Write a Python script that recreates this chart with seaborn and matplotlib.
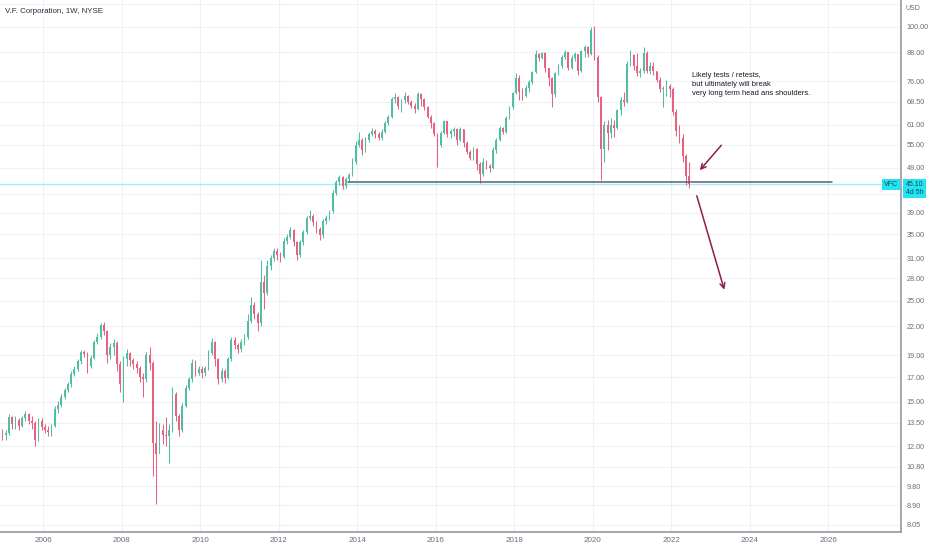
import numpy as np
import pandas as pd
import seaborn as sns
import matplotlib.pyplot as plt

# VFC, monthly candles (Dec 2004 .. Jun 2022), log price scale
first_open = 12.9
closes = [
    12.7,
    12.8, 13.9, 13.4, 13.7, 13.3, 13.8, 14.1, 13.6, 13.5, 12.4, 13.6, 13.2,  # 2005
    13.0, 12.9, 13.3, 14.5, 14.8, 15.4, 15.9, 16.4, 17.3, 17.7, 18.4, 19.3,  # 2006
    19.1, 18.0, 18.7, 20.3, 20.8, 22.1, 21.5, 19.0, 19.8, 20.2, 18.2, 16.4,  # 2007
    18.6, 19.2, 18.5, 18.2, 17.8, 17.0, 16.8, 19.0, 18.3, 12.2, 11.5, 13.0,  # 2008
    12.7, 12.6, 13.0, 15.6, 14.0, 13.0, 14.7, 16.1, 16.8, 18.3, 17.4, 17.7,  # 2009
    17.4, 17.8, 19.2, 20.3, 18.6, 16.8, 17.5, 16.9, 18.6, 20.5, 20.0, 19.6,  # 2010
    20.3, 20.8, 22.6, 24.5, 23.4, 22.3, 27.5, 26.0, 29.8, 31.0, 32.2, 31.5,  # 2011
    31.2, 33.8, 34.6, 35.8, 33.6, 31.5, 33.6, 35.5, 38.0, 38.5, 37.2, 36.0,  # 2012
    34.8, 37.4, 38.0, 39.3, 43.2, 45.5, 46.8, 44.6, 46.3, 47.3, 50.5, 55.0,  # 2013
    56.5, 53.5, 56.5, 58.2, 59.0, 58.0, 57.0, 58.8, 61.5, 63.5, 69.5, 70.0,  # 2014
    67.0, 69.0, 70.5, 68.5, 67.0, 66.0, 71.0, 69.5, 66.5, 63.5, 61.5, 58.0,  # 2015
    55.0, 58.5, 62.0, 58.0, 59.0, 59.5, 56.5, 59.5, 55.5, 53.0, 51.5, 54.0,  # 2016
    50.0, 47.5, 50.5, 49.5, 49.0, 53.5, 56.5, 59.9, 58.8, 63.0, 66.5, 71.5,  # 2017
    77.0, 72.0, 70.5, 73.5, 75.5, 79.5, 87.0, 85.5, 87.5, 81.0, 77.0, 71.0,  # 2018
    79.0, 82.0, 86.0, 88.0, 81.0, 85.5, 87.0, 80.0, 88.5, 90.5, 87.0, 98.5,  # 2019
    86.0, 70.0, 54.0, 61.0, 58.5, 61.0, 60.0, 65.5, 69.0, 68.5, 83.0, 86.5,  # 2020
    82.0, 79.0, 80.0, 87.5, 80.0, 82.0, 80.0, 76.5, 73.0, 73.0, 74.0, 73.0,  # 2021
    65.0, 59.0, 57.0, 52.0, 47.0, 45.1,                                      # 2022
]
highs = [
    13.1,
    13.0, 14.1, 14.0, 14.0, 13.8, 14.0, 14.3, 14.2, 14.0, 13.6, 13.8, 13.8,
    13.4, 13.3, 13.4, 14.7, 15.1, 15.6, 16.1, 16.6, 17.5, 18.0, 18.6, 19.5,
    19.5, 19.3, 19.0, 20.5, 21.2, 22.4, 22.5, 21.6, 20.2, 20.6, 20.4, 18.4,
    18.9, 19.6, 19.3, 18.7, 18.4, 18.0, 17.4, 19.3, 19.8, 18.4, 13.6, 13.5,
    13.4, 13.9, 13.4, 16.2, 15.8, 14.1, 14.9, 16.3, 17.0, 18.6, 18.5, 18.0,
    18.0, 18.0, 19.5, 20.7, 20.4, 18.7, 17.8, 17.7, 18.8, 20.8, 20.8, 20.2,
    20.6, 21.1, 23.4, 25.5, 24.8, 23.6, 30.7, 28.5, 30.7, 31.6, 32.6, 32.6,
    32.0, 34.4, 35.0, 36.3, 35.9, 33.8, 34.0, 35.8, 38.4, 39.5, 38.7, 37.5,
    36.3, 37.8, 38.6, 39.6, 43.7, 46.0, 47.3, 47.0, 46.8, 47.8, 51.5, 56.0,
    58.6, 57.0, 57.3, 58.8, 59.9, 59.6, 58.8, 59.5, 62.0, 64.0, 70.1, 71.5,
    70.5, 69.5, 71.9, 70.8, 69.2, 68.0, 71.9, 71.5, 69.8, 67.0, 64.0, 61.8,
    58.5, 59.0, 62.4, 62.0, 59.6, 60.1, 59.8, 60.1, 59.6, 56.0, 53.5, 54.5,
    54.2, 50.5, 51.6, 51.0, 50.0, 54.5, 57.0, 60.5, 60.2, 63.6, 67.0, 71.9,
    79.1, 78.3, 73.5, 74.5, 76.3, 80.0, 88.9, 87.5, 88.0, 87.9, 81.0, 77.5,
    79.5, 83.0, 86.5, 88.9, 88.0, 86.5, 87.9, 87.0, 89.0, 91.2, 90.8, 99.8,
    100.2, 86.5, 70.5, 62.0, 62.5, 63.0, 62.5, 66.0, 70.0, 72.0, 84.0, 88.9,
    87.0, 87.5, 81.0, 90.5, 88.5, 83.6, 83.6, 80.0, 77.5, 74.0, 76.4, 75.0,
    73.8, 66.0, 61.0, 58.0, 52.5, 50.5,
]
lows = [
    12.4,
    12.4, 12.7, 13.1, 13.1, 13.0, 13.2, 13.6, 13.4, 13.1, 12.0, 12.3, 13.0,
    12.8, 12.6, 12.6, 13.2, 14.2, 14.6, 15.2, 15.8, 16.2, 17.1, 17.5, 18.2,
    18.8, 17.4, 17.8, 18.6, 20.1, 20.6, 21.0, 18.3, 18.6, 19.0, 17.5, 15.8,
    15.0, 18.0, 18.0, 17.7, 17.4, 16.6, 15.4, 16.6, 17.6, 10.3, 8.95, 11.6,
    12.1, 12.0, 11.0, 12.9, 13.6, 12.6, 12.9, 14.6, 15.9, 16.6, 17.1, 17.2,
    16.9, 17.1, 17.6, 19.0, 18.0, 16.4, 16.6, 16.5, 16.8, 18.4, 19.6, 19.2,
    19.3, 20.0, 20.6, 22.3, 22.8, 21.5, 22.0, 24.0, 25.8, 29.2, 30.6, 30.8,
    30.5, 31.0, 33.4, 34.2, 33.0, 30.7, 31.2, 33.2, 35.0, 37.6, 36.6, 35.3,
    34.0, 34.4, 36.8, 37.6, 39.0, 42.8, 45.0, 44.0, 44.2, 45.5, 47.0, 50.0,
    54.5, 52.2, 53.0, 55.8, 57.5, 57.0, 56.3, 56.5, 58.3, 60.8, 63.0, 68.0,
    66.0, 64.9, 68.0, 67.5, 66.2, 64.5, 65.5, 67.0, 65.8, 63.0, 60.0, 57.5,
    49.2, 54.5, 58.0, 57.2, 57.0, 57.5, 54.9, 56.2, 54.5, 52.5, 50.9, 51.0,
    48.4, 45.3, 47.0, 48.6, 48.0, 48.8, 52.8, 56.0, 58.0, 58.5, 62.8, 66.0,
    71.0, 69.0, 69.0, 70.0, 71.9, 75.0, 79.0, 84.0, 85.0, 79.5, 74.0, 66.6,
    70.0, 78.5, 81.0, 85.0, 80.3, 80.8, 84.0, 78.3, 79.5, 86.0, 85.8, 86.5,
    84.5, 68.5, 46.0, 50.5, 53.6, 57.0, 57.2, 59.5, 64.0, 67.0, 68.0, 82.0,
    80.5, 78.0, 77.5, 79.0, 79.1, 78.8, 78.5, 75.5, 72.0, 66.6, 70.5, 70.0,
    64.0, 57.5, 55.5, 50.5, 45.0, 44.2,
]

price_ticks = [100.00, 88.00, 76.00, 68.50, 61.00, 55.00, 49.00, 39.00, 35.00, 31.00,
               28.00, 25.00, 22.00, 19.00, 17.00, 15.00, 13.50, 12.00, 10.80, 9.80, 8.90, 8.05]
hidden_grid = [112.0, 43.0]
year_ticks = [2006, 2008, 2010, 2012, 2014, 2016, 2018, 2020, 2022, 2024, 2026]
support_level = 45.6
note = "Likely tests / retests,\nbut ultimately will break\nvery long term head ans shoulders."

dates = pd.date_range("2004-12-01", periods=len(closes), freq="MS")
df = pd.DataFrame({"close": closes, "high": highs, "low": lows}, index=dates)
df["open"] = df["close"].shift(1).fillna(first_open)
df["t"] = df.index.year + (df.index.month - 0.5) / 12
df["up"] = df["close"] >= df["open"]

sns.set_theme(style="white")
plt.rcParams["font.family"] = ["Liberation Sans", "DejaVu Sans"]

UP, DOWN = "#52bda5", "#e8617f"
GRID = "#eef1f6"
AXIS = "#9598a1"

fig = plt.figure(figsize=(9.32, 5.5), dpi=100)
ax = fig.add_axes([0, 18.3 / 550, 901 / 932, 531.7 / 550])
ax.set_yscale("log")

for v in price_ticks + hidden_grid:
    ax.axhline(v, color=GRID, lw=0.8, zorder=0)
for v in year_ticks:
    ax.axvline(v, color=GRID, lw=0.8, zorder=0)

cols = np.where(df["up"], UP, DOWN)
ax.vlines(df["t"], df["low"], df["high"], colors=cols, lw=0.75, zorder=2)
body_lo = np.minimum(df["open"], df["close"])
body_h = np.maximum(np.abs(df["close"] - df["open"]), body_lo * 0.004)
ax.bar(df["t"], body_h, bottom=body_lo, width=0.045, color=cols, lw=0, zorder=3)

last = df["close"].iloc[-1]
ax.axhline(last, color="#9feef6", lw=0.9, zorder=1)

# support line (neckline)
sns.lineplot(x=[2013.77, 2026.1], y=[support_level, support_level], ax=ax,
             color="#5d606b", lw=1.1, zorder=4)

arrow = dict(arrowstyle="->", color="#8c1d4f", lw=1.1, mutation_scale=9)
ax.annotate("", xy=(2022.68, 47.9), xytext=(2023.32, 55.5), arrowprops=arrow)
ax.annotate("", xy=(2023.37, 26.1), xytext=(2022.63, 43.1), arrowprops=arrow)
ax.text(2022.53, 79.5, note, fontsize=5.4, color="#131722", va="top",
        linespacing=1.4)

ax.set_xlim(2004.897, 2027.852)
ax.set_ylim(7.78, 114.5)

ax.yaxis.tick_right()
ax.set_yticks(price_ticks)
ax.set_yticklabels([f"{v:.2f}" for v in price_ticks])
ax.yaxis.set_minor_locator(plt.NullLocator())
ax.set_xticks(year_ticks)
ax.set_xticklabels([str(y) for y in year_ticks])
ax.tick_params(axis="x", length=0, labelsize=5.8, colors="#6a6d78", pad=4)
ax.tick_params(axis="y", length=0, labelsize=5.2, colors="#6a6d78", pad=4)

for s in ["top", "left"]:
    ax.spines[s].set_visible(False)
for s in ["right", "bottom"]:
    ax.spines[s].set_color(AXIS)
    ax.spines[s].set_linewidth(1.2)

ax.text(0.0055, 0.979, "V.F. Corporation, 1W, NYSE", transform=ax.transAxes,
        fontsize=5.7, color="#2a2e39", va="center", ha="left")
fig.text(905 / 932, 1 - 9 / 550, "USD", fontsize=5.0, color="#6a6d78", va="center")

tr = ax.get_yaxis_transform()
ax.annotate(f"{last:.2f}\n4d 5h", xy=(1, last), xycoords=tr, xytext=(3.5, -3.2),
            textcoords="offset points", fontsize=5.0, color="#0f4a52", va="center",
            ha="left", linespacing=1.1, annotation_clip=False,
            bbox=dict(boxstyle="square,pad=0.35", fc="#22e4f2", ec="none"))
ax.annotate("VFC", xy=(1, last), xycoords=tr, xytext=(-2, 0), textcoords="offset points",
            fontsize=5.0, color="#0f4a52", va="center", ha="right",
            bbox=dict(boxstyle="square,pad=0.3", fc="#22e4f2", ec="none"))

fig.savefig("out.png", dpi=100)
